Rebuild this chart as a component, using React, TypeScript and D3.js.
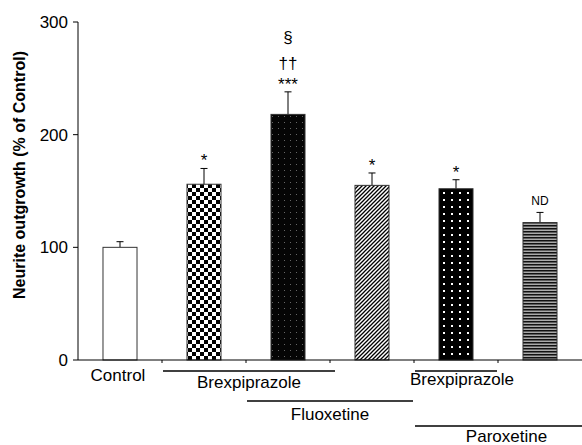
import * as d3 from 'd3';

const categories = ['Control', 'Brex', 'BrexFlu', 'Flu', 'BrexPar', 'Par'];
const means = [100, 156, 218, 155, 152, 122];
const errors = [5, 14, 20, 11, 8, 9];
const fills = ['#fff', 'url(#checker)', 'url(#darkdots)', 'url(#diag)', 'url(#whitedots)', 'url(#hlines)'];
// significance marks, bottom line first
const marks = [[], ['*'], ['***', '††', '§'], ['*'], ['*'], ['ND']];
const yTicks = [0, 100, 200, 300];

// treatment bars under the axis: [first category, last category, label]
const groups: [number, number, string][] = [
  [1, 2, 'Brexpiprazole'],
  [2, 3, 'Fluoxetine'],
  [4, 4, 'Brexpiprazole'],
  [4, 5, 'Paroxetine'],
];
const groupLineY = [371, 401, 371, 426];
const groupLabelY = [388, 420, 385, 442];
const groupLabelDx = [0, 0, 6, 8];

const W = 582;
const H = 445;
const margin = { top: 22, right: 0, bottom: 85, left: 78 };

export default function App() {
  const x = d3
    .scaleBand()
    .domain(categories)
    .range([margin.left, W - margin.right])
    .paddingInner(0.595)
    .paddingOuter(0.2975);
  const y = d3.scaleLinear().domain([0, 300]).range([H - margin.bottom, margin.top]);
  const step = x.step();
  const half = (step - x.bandwidth()) / 2;
  const y0 = y(0);
  const bounds = categories.slice(1).map((c) => x(c)! - half);
  const font = 'Liberation Sans, Arial, sans-serif';

  const markDy = (m: string, j: number) => (j === 0 ? (m === 'ND' ? 7 : 2) : j === 1 ? 23 : 49);

  return (
    <svg width={W} height={H} style={{ position: 'absolute', left: 0, top: 0, fontFamily: font }}>
      <defs>
        <pattern id="checker" width="8" height="8" patternUnits="userSpaceOnUse">
          <rect width="8" height="8" fill="#fff" />
          <rect width="4" height="4" fill="#000" />
          <rect x="4" y="4" width="4" height="4" fill="#000" />
        </pattern>
        <pattern id="darkdots" width="6" height="6" patternUnits="userSpaceOnUse">
          <rect width="6" height="6" fill="#050505" />
          <rect x="2" y="2" width="1" height="1" fill="#666" />
        </pattern>
        <pattern id="diag" width="4" height="4" patternUnits="userSpaceOnUse">
          <rect width="4" height="4" fill="#fff" />
          <path d="M-1,1 l2,-2 M0,4 l4,-4 M3,5 l2,-2" stroke="#000" strokeWidth="1.3" />
        </pattern>
        <pattern id="whitedots" width="8" height="7" patternUnits="userSpaceOnUse">
          <rect width="8" height="7" fill="#000" />
          <rect x="3" y="3" width="2" height="2" fill="#fff" />
        </pattern>
        <pattern id="hlines" width="4" height="3" patternUnits="userSpaceOnUse">
          <rect width="4" height="3" fill="#aaa" />
          <rect width="4" height="1.5" fill="#111" />
        </pattern>
      </defs>

      {/* bars with error bars */}
      {categories.map((c, i) => {
        const bx = x(c)!;
        const cx = bx + x.bandwidth() / 2;
        const top = y(means[i]);
        const errTop = y(means[i] + errors[i]);
        return (
          <g key={c}>
            <line x1={cx} x2={cx} y1={top} y2={errTop} stroke="#000" />
            <line x1={cx - 3.5} x2={cx + 3.5} y1={errTop} y2={errTop} stroke="#000" />
            <rect x={bx} y={top} width={x.bandwidth()} height={y0 - top} fill={fills[i]} stroke="#333" strokeWidth={1} />
            {marks[i].map((m, j) => (
              <text
                key={j}
                x={cx}
                y={errTop - markDy(m, j)}
                textAnchor="middle"
                fontSize={m === 'ND' ? 12 : 17}
              >
                {m}
              </text>
            ))}
          </g>
        );
      })}

      {/* y axis */}
      <line x1={margin.left} x2={margin.left} y1={y(300)} y2={y0} stroke="#000" />
      {yTicks.map((t) => (
        <g key={t}>
          <line x1={margin.left - 5} x2={margin.left} y1={y(t)} y2={y(t)} stroke="#000" />
          <text x={margin.left - 10} y={y(t) + 6} textAnchor="end" fontSize={17}>
            {t}
          </text>
        </g>
      ))}
      <text
        transform={`translate(25,175) rotate(-90)`}
        textAnchor="middle"
        fontSize={16}
        fontWeight="bold"
      >
        Neurite outgrowth (% of Control)
      </text>

      {/* x axis */}
      <line x1={margin.left} x2={W} y1={y0} y2={y0} stroke="#000" />
      {bounds.map((b, i) => (
        <line key={i} x1={b} x2={b} y1={y0} y2={y0 + 3} stroke="#000" />
      ))}
      <text x={x('Control')! + x.bandwidth() / 2 - 2} y={381} textAnchor="middle" fontSize={17}>
        Control
      </text>

      {groups.map(([a, b, label], i) => {
        const x1 = x(categories[a])! - half + 1;
        const x2 = b === categories.length - 1 ? W : x(categories[b])! + x.bandwidth() + half - 1 + (i === 0 ? 6 : 0);
        return (
          <g key={i}>
            <line x1={x1} x2={x2} y1={groupLineY[i]} y2={groupLineY[i]} stroke="#000" strokeWidth={1.5} />
            <text x={(x1 + x2) / 2 + groupLabelDx[i]} y={groupLabelY[i]} textAnchor="middle" fontSize={17}>
              {label}
            </text>
          </g>
        );
      })}
    </svg>
  );
}
